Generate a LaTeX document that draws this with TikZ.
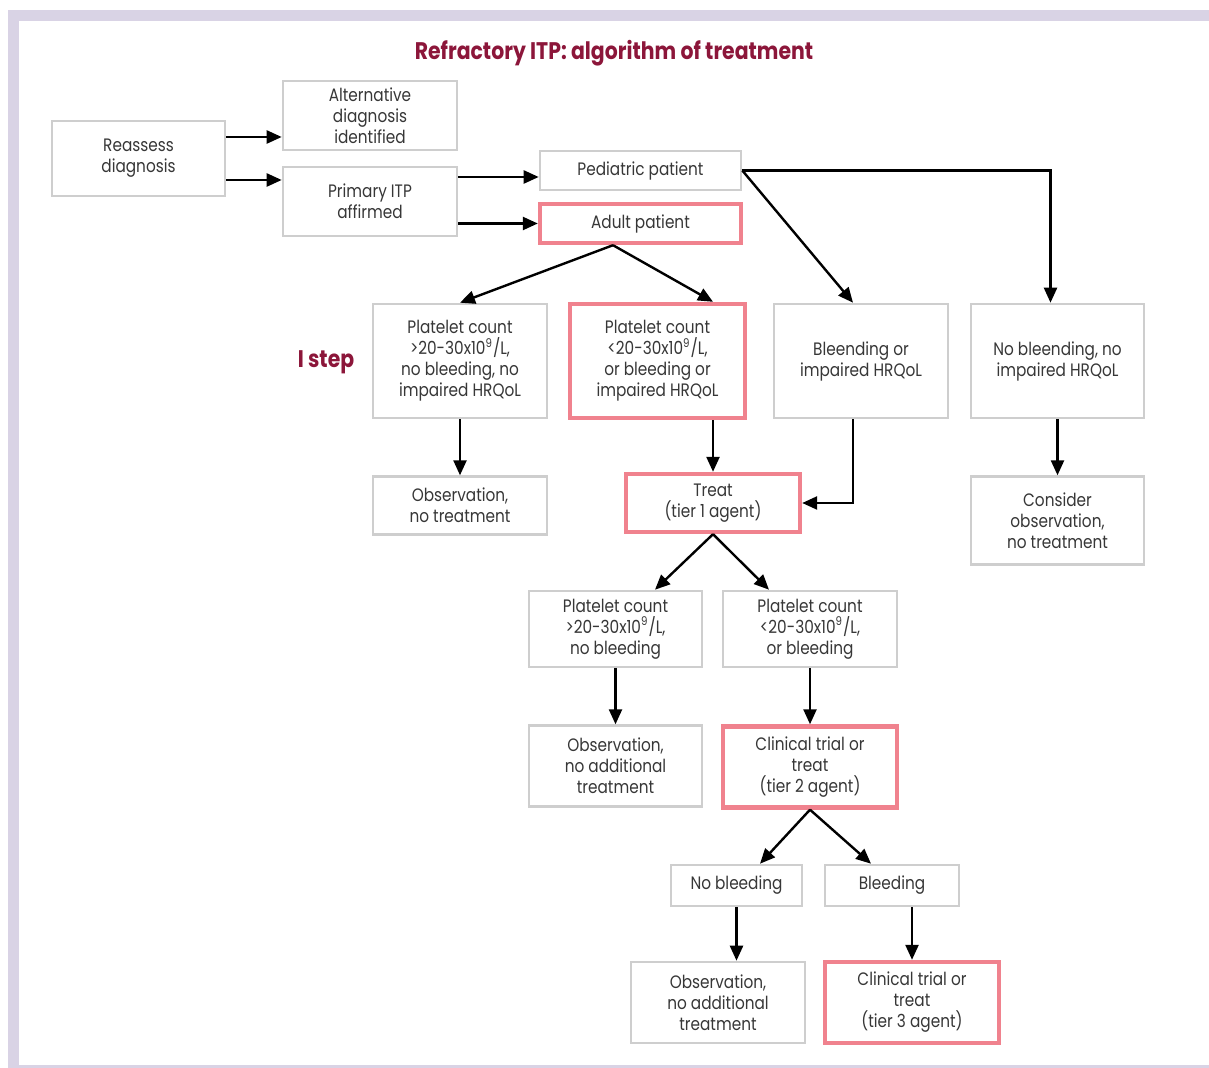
\documentclass[tikz,border=0pt]{standalone}
\usepackage{fontspec}
\setmainfont{Poppins}[FakeStretch=0.85]
\usepackage{xcolor}
\usepackage{tikz}
\usetikzlibrary{arrows.meta, positioning}

\definecolor{frameclr}{RGB}{217,211,229}
\definecolor{boxgray}{RGB}{206,206,206}
\definecolor{boxpink}{RGB}{240,130,142}
\definecolor{titleclr}{RGB}{140,22,58}
\definecolor{textclr}{RGB}{55,55,55}

\begin{document}
\begin{tikzpicture}[
  x=0.5pt, y=-0.5pt,
  gbox/.style={draw=boxgray, line width=1.3pt, fill=white, align=center, inner sep=0pt,
    text=textclr, font=\fontsize{9}{10.5}\selectfont},
  pbox/.style={gbox, draw=boxpink, line width=2.2pt},
  edge/.style={-{Triangle[length=7.5pt,width=6.5pt]}, line width=1.2pt},
  heading/.style={text=titleclr, font=\bfseries\fontsize{12}{14}\selectfont}
]
\useasboundingbox (0,0) rectangle (1209,1068);
% frame
\fill[frameclr] (8,10) rectangle (19,1068);
\fill[frameclr] (8,10) rectangle (1209,21);
\fill[frameclr] (19,1065) rectangle (1209,1068);

\node[heading] (title) at (614,53) {Refractory ITP: algorithm of treatment};
\node[heading] (istep) at (326,362) {I step};

% first column
\node[gbox, minimum width=86.5pt, minimum height=37.5pt] (reassess) at (138.5,158.5) {Reassess\\diagnosis};
\node[gbox, minimum width=87pt, minimum height=34.5pt] (alt) at (370,115.5) {Alternative\\diagnosis\\identified};
\node[gbox, minimum width=87pt, minimum height=34.5pt] (primary) at (370,201.5) {Primary ITP\\affirmed};
\node[gbox, minimum width=100.5pt, minimum height=19.5pt] (pediatric) at (640.5,170.5) {Pediatric patient};
\node[pbox, minimum width=100.5pt, minimum height=19.5pt] (adult) at (640.5,223.5) {Adult patient};

% I step
\node[gbox, minimum width=87pt, minimum height=57pt] (pgt) at (460,361) {Platelet count\\>20-30x10\textsuperscript{9}/L,\\no bleeding, no\\impaired HRQoL};
\node[pbox, minimum width=87.5pt, minimum height=57pt] (plt) at (657.5,361) {Platelet count\\<20-30x10\textsuperscript{9}/L,\\or bleeding or\\impaired HRQoL};
\node[gbox, minimum width=87pt, minimum height=57pt] (bleed) at (861,361) {Bleending or\\impaired HRQoL};
\node[gbox, minimum width=86.5pt, minimum height=57pt] (nobleed) at (1057.5,361) {No bleending, no\\impaired HRQoL};
\node[gbox, minimum width=87pt, minimum height=29pt, below=28pt of pgt] (obs1) {Observation,\\no treatment};
\node[pbox, minimum width=87pt, minimum height=29pt] (treat1) at (713,503) {Treat\\(tier 1 agent)};
\node[gbox, minimum width=86.5pt, minimum height=44pt, below=28pt of nobleed] (consider) {Consider\\observation,\\no treatment};

% tier 2
\node[gbox, minimum width=86.5pt, minimum height=38pt] (pgt2) at (615.5,629) {Platelet count\\>20-30x10\textsuperscript{9}/L,\\no bleeding};
\node[gbox, minimum width=87pt, minimum height=38pt] (plt2) at (810,629) {Platelet count\\<20-30x10\textsuperscript{9}/L,\\or bleeding};
\node[gbox, minimum width=86.5pt, minimum height=40.5pt, below=28pt of pgt2] (obs2) {Observation,\\no additional\\treatment};
\node[pbox, minimum width=87pt, minimum height=40.5pt, below=28pt of plt2] (trial2) {Clinical trial or\\treat\\(tier 2 agent)};

% tier 3
\node[gbox, minimum width=65.5pt, minimum height=20.5pt] (nob) at (736.5,885.5) {No bleeding};
\node[gbox, minimum width=67pt, minimum height=20.5pt] (bl) at (892,885.5) {Bleeding};
\node[gbox, minimum width=87pt, minimum height=40.5pt] (obs3) at (718,1002.5) {Observation,\\no additional\\treatment};
\node[pbox, minimum width=87pt, minimum height=40.5pt] (trial3) at (912,1002.5) {Clinical trial or\\treat\\(tier 3 agent)};

% connectors
\draw[edge] ([yshift=10.75pt]reassess.east) -- ([yshift=-10.75pt]alt.west);
\draw[edge] ([yshift=-10.75pt]reassess.east) -- ([yshift=10.75pt]primary.west);
\draw[edge] ([yshift=12.25pt]primary.east) -- ([yshift=-3.25pt]pediatric.west);
\draw[edge] (primary.east |- adult.west) -- (adult.west);
\draw[edge] (pediatric.east) -| ([xshift=-3.5pt]nobleed.north);
\draw[edge] (pediatric.east) -- ([xshift=-4pt]bleed.north);
\draw[edge] ([xshift=-13.75pt]adult.south) -- (pgt.north);
\draw[edge] ([xshift=-13.75pt]adult.south) -- ([xshift=27.75pt]plt.north);
\draw[edge] (pgt.south) -- (obs1.north);
\draw[edge] (treat1.north |- plt.south) -- (treat1.north);
\draw[edge] ([xshift=-4pt]bleed.south) |- (treat1.east);
\draw[edge] (nobleed.south) -- (consider.north);
\draw[edge] (treat1.south) -- ([xshift=19.75pt]pgt2.north);
\draw[edge] (treat1.south) -- ([xshift=-20.5pt]plt2.north);
\draw[edge] (pgt2.south) -- (obs2.north);
\draw[edge] (plt2.south) -- (trial2.north);
\draw[edge] (trial2.south) -- ([xshift=11.75pt]nob.north);
\draw[edge] (trial2.south) -- ([xshift=-10.5pt]bl.north);
\draw[edge] (nob.south) -- (nob.south |- obs3.north);
\draw[edge] (trial3.north |- bl.south) -- (trial3.north);
\end{tikzpicture}
\end{document}
